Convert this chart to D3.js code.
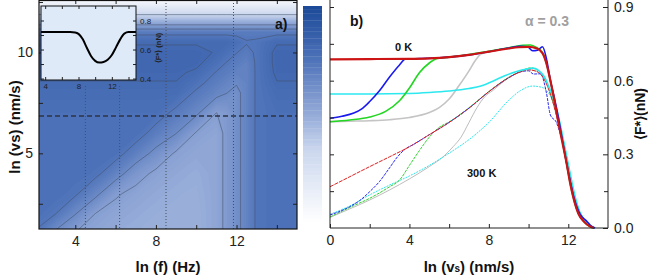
<!DOCTYPE html>
<html lang='en'>
<head>
<meta charset='UTF-8'>
<title>Friction force vs frequency and velocity</title>
<style>
  body { margin: 0; background: #fff; }
  svg { display: block; font-family: 'Liberation Sans', Arial, sans-serif; }
  .axis path.domain { display: none; }
  .axis line { stroke: #222; }
  .axis text { font-size: 14px; fill: #222; }
  .inset .axis text { font-size: 8px; }
  .title { font-size: 15px; font-weight: bold; fill: #111; }
  .tag { font-size: 14px; font-weight: bold; fill: #111; }
</style>
<script src='https://d3js.org/d3.v7.min.js'></script>
</head>
<body>
<script>

// ---- panel a: force map, ln(f) columns x ln(vs) rows (values in nN)
var lnF = [2, 3, 4, 5, 6, 7, 8, 9, 10, 11, 11.5, 12, 12.5, 13, 14, 15];
var lnV = [1, 2, 3, 4, 5, 6, 7, 8, 8.5, 9, 9.5, 10, 10.5, 11, 11.5, 12, 12.5, 13];
var forceRows = [
  [0.653, 0.562, 0.494, 0.469, 0.45, 0.439, 0.434, 0.43, 0.43, 0.47, 0.517, 0.559, 0.611, 0.67, 0.69, 0.69],
  [0.69, 0.662, 0.583, 0.498, 0.473, 0.454, 0.44, 0.435, 0.43, 0.47, 0.517, 0.559, 0.611, 0.67, 0.69, 0.69],
  [0.69, 0.69, 0.67, 0.60, 0.51, 0.478, 0.457, 0.442, 0.436, 0.47, 0.517, 0.559, 0.611, 0.67, 0.69, 0.69],
  [0.69, 0.69, 0.69, 0.677, 0.615, 0.532, 0.484, 0.461, 0.445, 0.47, 0.517, 0.559, 0.611, 0.67, 0.69, 0.69],
  [0.69, 0.69, 0.69, 0.69, 0.685, 0.626, 0.557, 0.49, 0.465, 0.47, 0.517, 0.559, 0.611, 0.67, 0.69, 0.69],
  [0.69, 0.69, 0.69, 0.69, 0.69, 0.69, 0.635, 0.582, 0.494, 0.47, 0.517, 0.559, 0.611, 0.67, 0.69, 0.69],
  [0.69, 0.69, 0.69, 0.69, 0.69, 0.69, 0.69, 0.643, 0.594, 0.499, 0.517, 0.559, 0.611, 0.67, 0.69, 0.69],
  [0.705, 0.705, 0.705, 0.705, 0.705, 0.705, 0.705, 0.704, 0.65, 0.605, 0.582, 0.559, 0.611, 0.67, 0.705, 0.705],
  [0.718, 0.718, 0.718, 0.718, 0.718, 0.718, 0.718, 0.718, 0.681, 0.631, 0.609, 0.587, 0.611, 0.67, 0.718, 0.718],
  [0.73, 0.73, 0.73, 0.73, 0.73, 0.73, 0.73, 0.73, 0.71, 0.656, 0.635, 0.614, 0.611, 0.67, 0.73, 0.73],
  [0.735, 0.735, 0.735, 0.735, 0.735, 0.735, 0.735, 0.735, 0.735, 0.688, 0.659, 0.638, 0.618, 0.67, 0.735, 0.735],
  [0.735, 0.735, 0.735, 0.735, 0.735, 0.735, 0.735, 0.735, 0.735, 0.716, 0.69, 0.662, 0.641, 0.67, 0.735, 0.735],
  [0.715, 0.715, 0.715, 0.715, 0.715, 0.715, 0.715, 0.715, 0.715, 0.715, 0.715, 0.694, 0.665, 0.67, 0.715, 0.715],
  [0.64, 0.64, 0.64, 0.64, 0.64, 0.64, 0.64, 0.64, 0.64, 0.64, 0.64, 0.64, 0.64, 0.64, 0.64, 0.64],
  [0.45, 0.45, 0.45, 0.45, 0.45, 0.45, 0.45, 0.45, 0.45, 0.45, 0.45, 0.45, 0.45, 0.45, 0.45, 0.45],
  [0.25, 0.25, 0.25, 0.25, 0.25, 0.25, 0.25, 0.25, 0.25, 0.25, 0.25, 0.25, 0.25, 0.25, 0.25, 0.25],
  [0.08, 0.08, 0.08, 0.08, 0.08, 0.08, 0.08, 0.08, 0.08, 0.08, 0.08, 0.08, 0.08, 0.08, 0.08, 0.08],
  [0, 0, 0, 0, 0, 0, 0, 0, 0, 0, 0, 0, 0, 0, 0, 0]
];
var lineLevels = [0.3, 0.5, 0.58, 0.66, 0.72];
var markFreqs = [4.5, 6.2, 8.5, 11.85];
var cutVs = 6.85;

// inset: force along the dashed cut
var insetF = [3.5, 5, 7, 7.6, 8, 8.5, 9, 9.5, 10, 10.5, 11, 11.5, 12, 12.5, 13, 13.5, 14, 14.9];
var insetForce = [0.72, 0.72, 0.72, 0.718, 0.708, 0.672, 0.612, 0.556, 0.522, 0.51, 0.514, 0.53, 0.562, 0.615, 0.67, 0.71, 0.72, 0.72];

// ---- panel b: <F*> vs ln(vs), 0 K (thick) and 300 K (thin)
var red0K = [[0,0.687],[2,0.688],[4,0.689],[5,0.691],[6,0.696],[7,0.705],[8,0.718],[8.5,0.725],[9,0.731],[9.5,0.736],[10,0.738],[10.4,0.732],[10.7,0.712],[10.9,0.67],[11.1,0.6],[11.3,0.52],[11.5,0.43],[11.7,0.35],[11.9,0.27],[12.1,0.18],[12.3,0.11],[12.5,0.06],[12.8,0.025],[13.1,0.006],[13.3,0]];
var blue0K = [[0,0.447],[0.6,0.455],[1.2,0.468],[1.6,0.485],[2,0.515],[2.5,0.56],[3,0.615],[3.5,0.664],[3.8,0.688],[4.5,0.69],[6,0.696],[7,0.705],[8,0.718],[9,0.733],[9.6,0.74],[9.95,0.738],[10.2,0.722],[10.45,0.724],[10.7,0.738],[10.9,0.69],[11.1,0.6],[11.3,0.53],[11.5,0.45],[11.7,0.36],[11.9,0.27],[12.1,0.19],[12.3,0.12],[12.6,0.055],[12.9,0.03],[13.1,0.012],[13.35,0]];
var green0K = [[0,0.433],[1,0.44],[2,0.452],[2.8,0.475],[3.5,0.518],[4,0.57],[4.5,0.632],[5,0.672],[5.4,0.69],[6,0.696],[7,0.706],[8,0.72],[9,0.734],[9.7,0.744],[10.1,0.745],[10.4,0.735],[10.7,0.715],[10.9,0.67],[11.1,0.6],[11.3,0.52],[11.5,0.44],[11.7,0.355],[11.9,0.27],[12.1,0.18],[12.3,0.11],[12.5,0.06],[12.8,0.025],[13.1,0.006],[13.3,0]];
var gray0K = [[0,0.433],[1,0.435],[2,0.437],[3,0.441],[4,0.45],[5,0.47],[5.5,0.49],[6,0.525],[6.5,0.58],[7,0.64],[7.3,0.68],[7.6,0.708],[8,0.718],[9,0.731],[9.5,0.737],[10,0.739],[10.4,0.733],[10.7,0.713],[10.9,0.67],[11.1,0.6],[11.3,0.52],[11.5,0.43],[11.7,0.35],[11.9,0.27],[12.1,0.18],[12.3,0.11],[12.5,0.06],[12.8,0.025],[13.1,0.006],[13.3,0]];
var cyan0K = [[0,0.546],[2,0.546],[4,0.548],[5,0.552],[6,0.558],[7,0.568],[7.6,0.578],[8.2,0.598],[8.8,0.62],[9.4,0.637],[9.9,0.647],[10.2,0.651],[10.5,0.642],[10.8,0.615],[11,0.58],[11.2,0.54],[11.4,0.49],[11.6,0.42],[11.8,0.34],[12,0.26],[12.2,0.18],[12.4,0.11],[12.6,0.06],[12.9,0.025],[13.2,0.005],[13.35,0]];

var red300K = [[0,0.168],[1,0.209],[2,0.25],[3,0.29],[4,0.331],[5,0.38],[6,0.43],[7,0.488],[8,0.555],[8.5,0.585],[9,0.612],[9.5,0.633],[10,0.644],[10.4,0.638],[10.8,0.605],[11.1,0.545],[11.4,0.46],[11.7,0.36],[12,0.24],[12.3,0.12],[12.6,0.05],[12.9,0.018],[13.2,0]];
var blue300K = [[0,0.053],[0.5,0.068],[1,0.087],[1.5,0.112],[2,0.148],[2.5,0.19],[3,0.245],[3.4,0.29],[3.8,0.322],[4.2,0.34],[5,0.38],[6,0.43],[7,0.488],[8,0.555],[9,0.612],[9.6,0.636],[10,0.64],[10.25,0.627],[10.6,0.628],[10.9,0.55],[11.1,0.46],[11.4,0.43],[11.7,0.35],[12,0.24],[12.3,0.13],[12.6,0.06],[12.9,0.025],[13.25,0]];
var green300K = [[0,0.045],[1,0.084],[2,0.121],[3,0.168],[3.5,0.195],[4,0.255],[4.5,0.315],[5,0.37],[5.5,0.41],[6,0.432],[7,0.49],[8,0.556],[9,0.614],[9.6,0.638],[10.1,0.652],[10.5,0.64],[10.8,0.61],[11.1,0.55],[11.4,0.465],[11.7,0.365],[12,0.245],[12.3,0.125],[12.6,0.052],[12.9,0.018],[13.2,0]];
var gray300K = [[0,0.043],[1,0.078],[2,0.114],[3,0.155],[4,0.2],[5,0.25],[5.7,0.29],[6.2,0.331],[6.6,0.37],[7,0.43],[7.4,0.49],[7.8,0.535],[8.2,0.56],[9,0.612],[9.5,0.633],[10,0.645],[10.4,0.638],[10.8,0.603],[11.1,0.545],[11.4,0.46],[11.7,0.36],[12,0.24],[12.3,0.12],[12.6,0.05],[12.9,0.018],[13.2,0]];
var cyan300K = [[0,0.056],[1,0.09],[2,0.135],[3,0.175],[4,0.212],[5,0.255],[6,0.305],[7,0.36],[8,0.43],[9,0.52],[9.6,0.56],[10.2,0.578],[10.7,0.572],[11.2,0.52],[11.5,0.45],[11.8,0.34],[12.1,0.22],[12.4,0.11],[12.7,0.05],[13,0.015],[13.3,0]];

var svg = d3.select('body').append('svg').attr('width', 648).attr('height', 276);

var color = d3.scaleLinear()
  .domain([0, 0.3, 0.43, 0.55, 0.69, 0.75, 0.9])
  .range(['#ffffff', '#cbd7ee', '#9ab0db', '#7692cb', '#4a70b7', '#3d64ae', '#1b4a98']);

// ================= panel a =================
var xa = d3.scaleLinear().domain([2.2, 15]).range([39, 297]);
var ya = d3.scaleLinear().domain([1.25, 12.6]).range([229, 0]);

svg.append('clipPath').attr('id', 'clipA')
  .append('rect').attr('x', 39).attr('y', 0).attr('width', 258).attr('height', 229);

// grid index -> data units (contour coords put sample i at i + 0.5)
var gx = d3.scaleLinear().domain(lnF.map(function (d, i) { return i + 0.5; })).range(lnF);
var gy = d3.scaleLinear().domain(lnV.map(function (d, i) { return i + 0.5; })).range(lnV);
var proj = d3.geoTransform({
  point: function (px, py) { this.stream.point(xa(gx(px)), ya(gy(py))); }
});
var cpath = d3.geoPath(proj);
var flat = [].concat.apply([], forceRows);
var cgen = d3.contours().size([lnF.length, lnV.length]);

var ga = svg.append('g').attr('clip-path', 'url(#clipA)');

ga.selectAll('path.fill')
  .data(cgen.thresholds(d3.range(0, 0.8, 0.01))(flat))
  .enter().append('path')
  .attr('class', 'fill')
  .attr('d', cpath)
  .attr('fill', function (d) { return color(d.value + 0.005); });

ga.selectAll('path.iso')
  .data(cgen.thresholds(lineLevels)(flat))
  .enter().append('path')
  .attr('class', 'iso')
  .attr('d', cpath)
  .attr('fill', 'none')
  .attr('stroke', '#44506a')
  .attr('stroke-opacity', 0.8)
  .attr('stroke-width', 0.7);

// dotted frequency markers and dashed velocity cut
ga.selectAll('line.mark')
  .data(markFreqs)
  .enter().append('line')
  .attr('class', 'mark')
  .attr('x1', function (d) { return xa(d); })
  .attr('x2', function (d) { return xa(d); })
  .attr('y1', function (d) { return d < 7 ? 86 : 0; })
  .attr('y2', 229)
  .attr('stroke', '#4a4f5c')
  .attr('stroke-width', 1)
  .attr('stroke-dasharray', '1,2');

ga.append('line')
  .attr('x1', 39).attr('x2', 297)
  .attr('y1', ya(cutVs)).attr('y2', ya(cutVs))
  .attr('stroke', '#2c3444')
  .attr('stroke-width', 1.4)
  .attr('stroke-dasharray', '5,3');

// axes of panel a (ticks inward)
svg.append('g').attr('class', 'axis').attr('transform', 'translate(0,229)')
  .call(d3.axisBottom(xa).tickValues([4, 8, 12]).tickSize(-4).tickPadding(7).tickFormat(d3.format('d')));
svg.append('g').attr('class', 'axis').attr('transform', 'translate(0,229)')
  .call(d3.axisBottom(xa).tickValues([6, 10, 14]).tickSize(-4).tickFormat(''));
svg.append('g').attr('class', 'axis').attr('transform', 'translate(0,0)')
  .call(d3.axisTop(xa).tickValues([4, 6, 8, 10, 12, 14]).tickSize(-4).tickFormat(''));
svg.append('g').attr('class', 'axis').attr('transform', 'translate(39,0)')
  .call(d3.axisLeft(ya).tickValues([5, 10]).tickSize(-4).tickPadding(6).tickFormat(d3.format('d')));
svg.append('g').attr('class', 'axis').attr('transform', 'translate(39,0)')
  .call(d3.axisLeft(ya).tickValues([2.5, 7.5, 12.5]).tickSize(-4).tickFormat(''));
svg.append('g').attr('class', 'axis').attr('transform', 'translate(297,0)')
  .call(d3.axisRight(ya).tickValues([2.5, 5, 7.5, 10, 12.5]).tickSize(-4).tickFormat(''));

svg.append('rect')
  .attr('x', 39).attr('y', 0.5).attr('width', 258).attr('height', 228.5)
  .attr('fill', 'none').attr('stroke', '#111').attr('stroke-width', 1.2);

svg.append('text').attr('class', 'title')
  .attr('text-anchor', 'middle')
  .attr('x', 168).attr('y', 272)
  .text('ln (f) (Hz)');

svg.append('text').attr('class', 'title')
  .attr('text-anchor', 'middle')
  .attr('transform', 'translate(20,127) rotate(-90)')
  .text('ln (vs) (nm/s)');

svg.append('text').attr('class', 'tag')
  .attr('x', 275).attr('y', 29)
  .text('a)');

// ---- inset
var xi = d3.scaleLinear().domain([3.5, 14.9]).range([41, 136]);
var yi = d3.scaleLinear().domain([0.39, 0.9]).range([80, 6]);
var gi = svg.append('g').attr('class', 'inset');

gi.append('rect')
  .attr('x', 41).attr('y', 6).attr('width', 95).attr('height', 74)
  .attr('fill', '#dfeaf8');

gi.append('path')
  .datum(d3.zip(insetF, insetForce))
  .attr('fill', 'none')
  .attr('stroke', '#000')
  .attr('stroke-width', 2)
  .attr('d', d3.line()
    .x(function (d) { return xi(d[0]); })
    .y(function (d) { return yi(d[1]); })
    .curve(d3.curveMonotoneX));

gi.append('g').attr('class', 'axis').attr('transform', 'translate(0,80)')
  .call(d3.axisBottom(xi).tickValues([4, 8, 12]).tickSize(-3).tickPadding(3).tickFormat(d3.format('d')));
gi.append('g').attr('class', 'axis').attr('transform', 'translate(0,80)')
  .call(d3.axisBottom(xi).tickValues([6, 10, 14]).tickSize(-3).tickFormat(''));
gi.append('g').attr('class', 'axis').attr('transform', 'translate(0,6)')
  .call(d3.axisTop(xi).tickValues([4, 6, 8, 10, 12, 14]).tickSize(-3).tickFormat(''));
gi.append('g').attr('class', 'axis').attr('transform', 'translate(136,0)')
  .call(d3.axisRight(yi).tickValues([0.4, 0.6, 0.8]).tickSize(-3).tickPadding(4).tickFormat(d3.format('.1f')));
gi.append('g').attr('class', 'axis').attr('transform', 'translate(136,0)')
  .call(d3.axisRight(yi).tickValues([0.5, 0.7]).tickSize(-3).tickFormat(''));
gi.append('g').attr('class', 'axis').attr('transform', 'translate(41,0)')
  .call(d3.axisLeft(yi).tickValues([0.4, 0.5, 0.6, 0.7, 0.8]).tickSize(-3).tickFormat(''));

gi.append('rect')
  .attr('x', 41).attr('y', 6).attr('width', 95).attr('height', 74)
  .attr('fill', 'none').attr('stroke', '#111').attr('stroke-width', 1);

gi.append('text')
  .attr('text-anchor', 'middle')
  .attr('transform', 'translate(161,48) rotate(-90)')
  .style('font-size', '7.5px').style('font-weight', 'bold').style('fill', '#222')
  .text('\u27E8F*\u27E9 (nN)');

// ---- colour bar
var yc = d3.scaleLinear().domain([0, 0.9]).range([222, 6]);
var cbStep = 0.015;
svg.append('g').selectAll('rect')
  .data(d3.range(0, 0.9 - 1e-9, cbStep))
  .enter().append('rect')
  .attr('x', 303).attr('width', 19)
  .attr('y', function (d) { return yc(d + cbStep); })
  .attr('height', function (d) { return yc(d) - yc(d + cbStep) + 0.3; })
  .attr('fill', function (d) { return color(d + cbStep / 2); });

// ================= panel b =================
var xb = d3.scaleLinear().domain([0, 14]).range([330, 608]);
var yb = d3.scaleLinear().domain([0, 0.9]).range([228, 7]);

var line = d3.line()
  .x(function (d) { return xb(d[0]); })
  .y(function (d) { return yb(d[1]); })
  .curve(d3.curveMonotoneX);

var thin = [
  { data: gray300K, color: '#bdbdbd' },
  { data: cyan300K, color: '#33e6ee', dash: '2,1' },
  { data: green300K, color: '#2fd02f', dash: '3,1' },
  { data: blue300K, color: '#2a2af0', dash: '3,1' },
  { data: red300K, color: '#e02020', dash: '4,1' }
];
var thick = [
  { data: gray0K, color: '#c4c4c4' },
  { data: cyan0K, color: '#2ce8ef' },
  { data: green0K, color: '#22d622' },
  { data: blue0K, color: '#1a1aee' },
  { data: red0K, color: '#cc1414' }
];

var gb = svg.append('g');
gb.selectAll('path.t300')
  .data(thin)
  .enter().append('path')
  .attr('class', 't300')
  .attr('fill', 'none')
  .attr('stroke', function (d) { return d.color; })
  .attr('stroke-width', 1)
  .attr('stroke-dasharray', function (d) { return d.dash || null; })
  .attr('d', function (d) { return line(d.data); });

gb.selectAll('path.t0')
  .data(thick)
  .enter().append('path')
  .attr('class', 't0')
  .attr('fill', 'none')
  .attr('stroke', function (d) { return d.color; })
  .attr('stroke-width', function (d, i) { return i === 4 ? 2.2 : 1.6; })
  .attr('d', function (d) { return line(d.data); });

// axes of panel b
svg.append('g').attr('class', 'axis').attr('transform', 'translate(0,228)')
  .call(d3.axisBottom(xb).tickValues([0, 4, 8, 12]).tickSize(-4).tickPadding(7).tickFormat(d3.format('d')));
svg.append('g').attr('class', 'axis').attr('transform', 'translate(0,228)')
  .call(d3.axisBottom(xb).tickValues([2, 6, 10]).tickSize(-4).tickFormat(''));
svg.append('g').attr('class', 'axis').attr('transform', 'translate(330,0)')
  .call(d3.axisLeft(yb).tickValues([0.15, 0.3, 0.45, 0.6, 0.75, 0.9]).tickSize(-4).tickFormat(''));
svg.append('g').attr('class', 'axis').attr('transform', 'translate(608,0)')
  .call(d3.axisRight(yb).tickValues([0, 0.3, 0.6, 0.9]).tickSize(-5).tickPadding(6).tickFormat(d3.format('.1f')));
svg.append('g').attr('class', 'axis').attr('transform', 'translate(608,0)')
  .call(d3.axisRight(yb).tickValues([0.15, 0.45, 0.75]).tickSize(-4).tickFormat(''));

svg.append('path')
  .attr('d', 'M330,0V228H608V0')
  .attr('fill', 'none').attr('stroke', '#222').attr('stroke-width', 1);

var xt = svg.append('text').attr('class', 'title')
  .attr('text-anchor', 'middle')
  .attr('x', 469).attr('y', 272);
xt.append('tspan').text('ln (v');
xt.append('tspan').style('font-size', '10px').text('s');
xt.append('tspan').text(') (nm/s)');

svg.append('text').attr('class', 'title')
  .attr('text-anchor', 'middle')
  .style('font-size', '14px')
  .attr('transform', 'translate(645,114) rotate(-90)')
  .text('\u27E8F*\u27E9(nN)');

svg.append('text').attr('class', 'tag')
  .attr('x', 350).attr('y', 26)
  .text('b)');

svg.append('text').attr('class', 'tag')
  .attr('x', 525).attr('y', 26)
  .style('fill', '#a0a0a0')
  .text('\u03B1 = 0.3');

svg.append('text')
  .attr('x', 395).attr('y', 51)
  .style('font-size', '11px').style('font-weight', 'bold').style('fill', '#111')
  .text('0 K');

svg.append('text')
  .attr('x', 467).attr('y', 177)
  .style('font-size', '11px').style('font-weight', 'bold').style('fill', '#111')
  .text('300 K');

</script>
</body>
</html>
